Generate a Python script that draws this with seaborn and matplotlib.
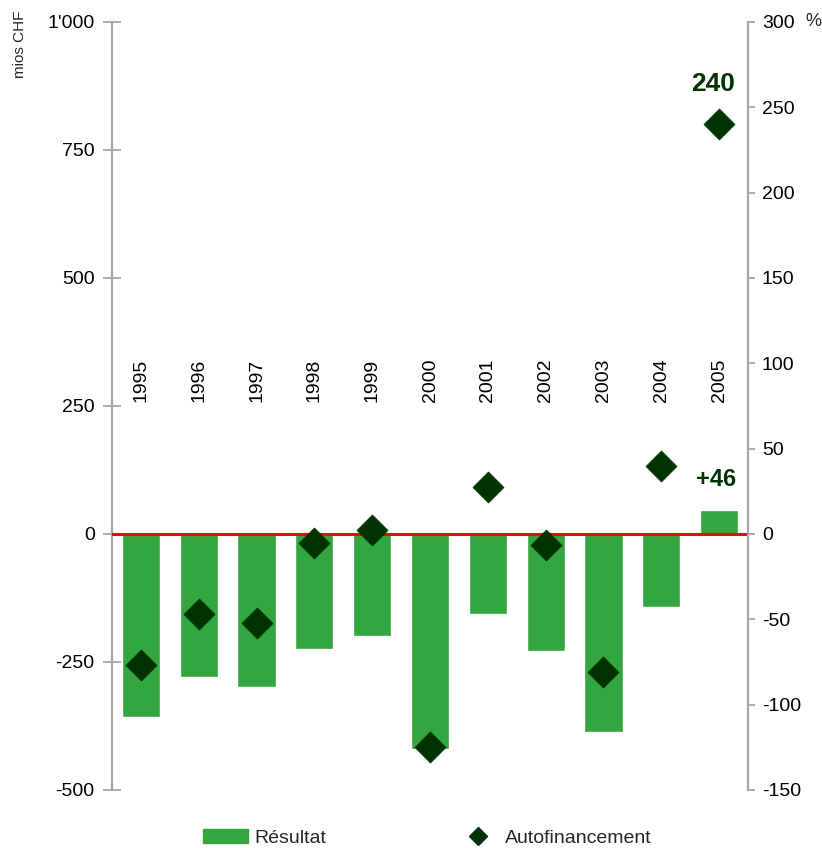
import numpy as np
import pandas as pd
import matplotlib
matplotlib.use("Agg")
import matplotlib.pyplot as plt
import seaborn as sns
from matplotlib.patches import Patch
from matplotlib.lines import Line2D
from matplotlib.ticker import FixedLocator, FixedFormatter

years = ["1995", "1996", "1997", "1998", "1999", "2000", "2001", "2002", "2003", "2004", "2005"]
resultat = [-357, -279, -299, -225, -199, -420, -156, -228, -387, -143, 46]
autofin = [-77, -47, -52, -5, 2.5, -125, 27.5, -6.5, -81, 40, 240]
left_ticks = [-500, -250, 0, 250, 500, 750, 1000]
left_labels = ["-500", "-250", "0", "250", "500", "750", "1'000"]
right_ticks = [-150, -100, -50, 0, 50, 100, 150, 200, 250, 300]
right_labels = ["-150", "-100", "-50", "0", "50", "100", "150", "200", "250", "300"]

BAR = "#34a640"
DIA = "#003300"
SPINE = "#a6a6a6"

sns.set_theme(style="white")
plt.rcParams["font.family"] = ["Liberation Sans", "DejaVu Sans"]
plt.rcParams["axes.unicode_minus"] = False

df = pd.DataFrame({"year": years, "resultat": resultat, "autofin": autofin, "pos": np.arange(len(years))})

fig = plt.figure(figsize=(8.22, 8.48), dpi=100)
ax = fig.add_axes([112 / 822, 1 - 790 / 848, (748 - 112) / 822, (790 - 22) / 848])

sns.barplot(data=df, x="year", y="resultat", color=BAR, saturation=1, width=0.66, ax=ax, zorder=2)
ax.set_xlim(-0.5, len(years) - 0.5)
ax.set_ylim(-500, 1000)
ax.axhline(0, color="#ff0000", lw=2.2, zorder=3)

ax.yaxis.set_major_locator(FixedLocator(left_ticks))
ax.yaxis.set_major_formatter(FixedFormatter(left_labels))
ax.tick_params(axis="y", direction="inout", length=13, width=1.3, color=SPINE, labelsize=14, pad=6, labelcolor="black", left=True)
ax.tick_params(axis="x", bottom=False, labelbottom=False)
ax.set_xlabel("")
ax.set_ylabel("")
for s in ["top", "right", "bottom"]:
    ax.spines[s].set_visible(False)
ax.spines["left"].set_color(SPINE)
ax.spines["left"].set_linewidth(1.6)

for i, y in enumerate(years):
    ax.text(i, 300, y, rotation=90, ha="center", va="center", fontsize=14, color="black")

ax2 = ax.twinx()
sns.scatterplot(data=df, x="pos", y="autofin", marker="D", s=250, color=DIA, edgecolor=DIA, linewidth=0.5, ax=ax2, zorder=4, legend=False)
ax2.set_ylim(-150, 300)
ax2.set_xlim(-0.5, len(years) - 0.5)
ax2.yaxis.set_major_locator(FixedLocator(right_ticks))
ax2.yaxis.set_major_formatter(FixedFormatter(right_labels))
ax2.tick_params(axis="y", direction="out", length=5, width=1.3, color=SPINE, labelsize=14, pad=5, labelcolor="black", right=True)
ax2.set_xlabel("")
ax2.set_ylabel("")
for s in ["top", "left", "bottom"]:
    ax2.spines[s].set_visible(False)
ax2.spines["right"].set_color(SPINE)
ax2.spines["right"].set_linewidth(1.6)

last = len(years) - 1
ax2.annotate("240", (last, autofin[last]), xytext=(-4, 29), textcoords="offset points",
             ha="center", va="center", fontsize=19, fontweight="bold", color=DIA)
ax.annotate("+46", (last, resultat[last]), xytext=(-2, 22), textcoords="offset points",
            ha="center", va="center", fontsize=17, fontweight="bold", color=DIA)

fig.text(20 / 822, 1 - 44 / 848, "mios CHF", rotation=90, ha="center", va="center", fontsize=11)
fig.text(813 / 822, 1 - 22 / 848, "%", ha="center", va="center", fontsize=13)

h1 = [Patch(facecolor=BAR, edgecolor=BAR)]
h2 = [Line2D([0], [0], marker="D", color="none", markerfacecolor=DIA, markeredgecolor=DIA, markersize=9)]
fig.legend(h1, ["Résultat"], loc="center left", bbox_to_anchor=(203 / 822, 1 - 838 / 848),
           frameon=False, fontsize=14, handlelength=2.3, handleheight=0.75, handletextpad=0.35,
           borderpad=0, borderaxespad=0)
fig.legend(h2, ["Autofinancement"], loc="center left", bbox_to_anchor=(468 / 822, 1 - 838 / 848),
           frameon=False, fontsize=14, handlelength=1.0, handletextpad=0.9,
           borderpad=0, borderaxespad=0)

fig.savefig("out.png", dpi=100)
